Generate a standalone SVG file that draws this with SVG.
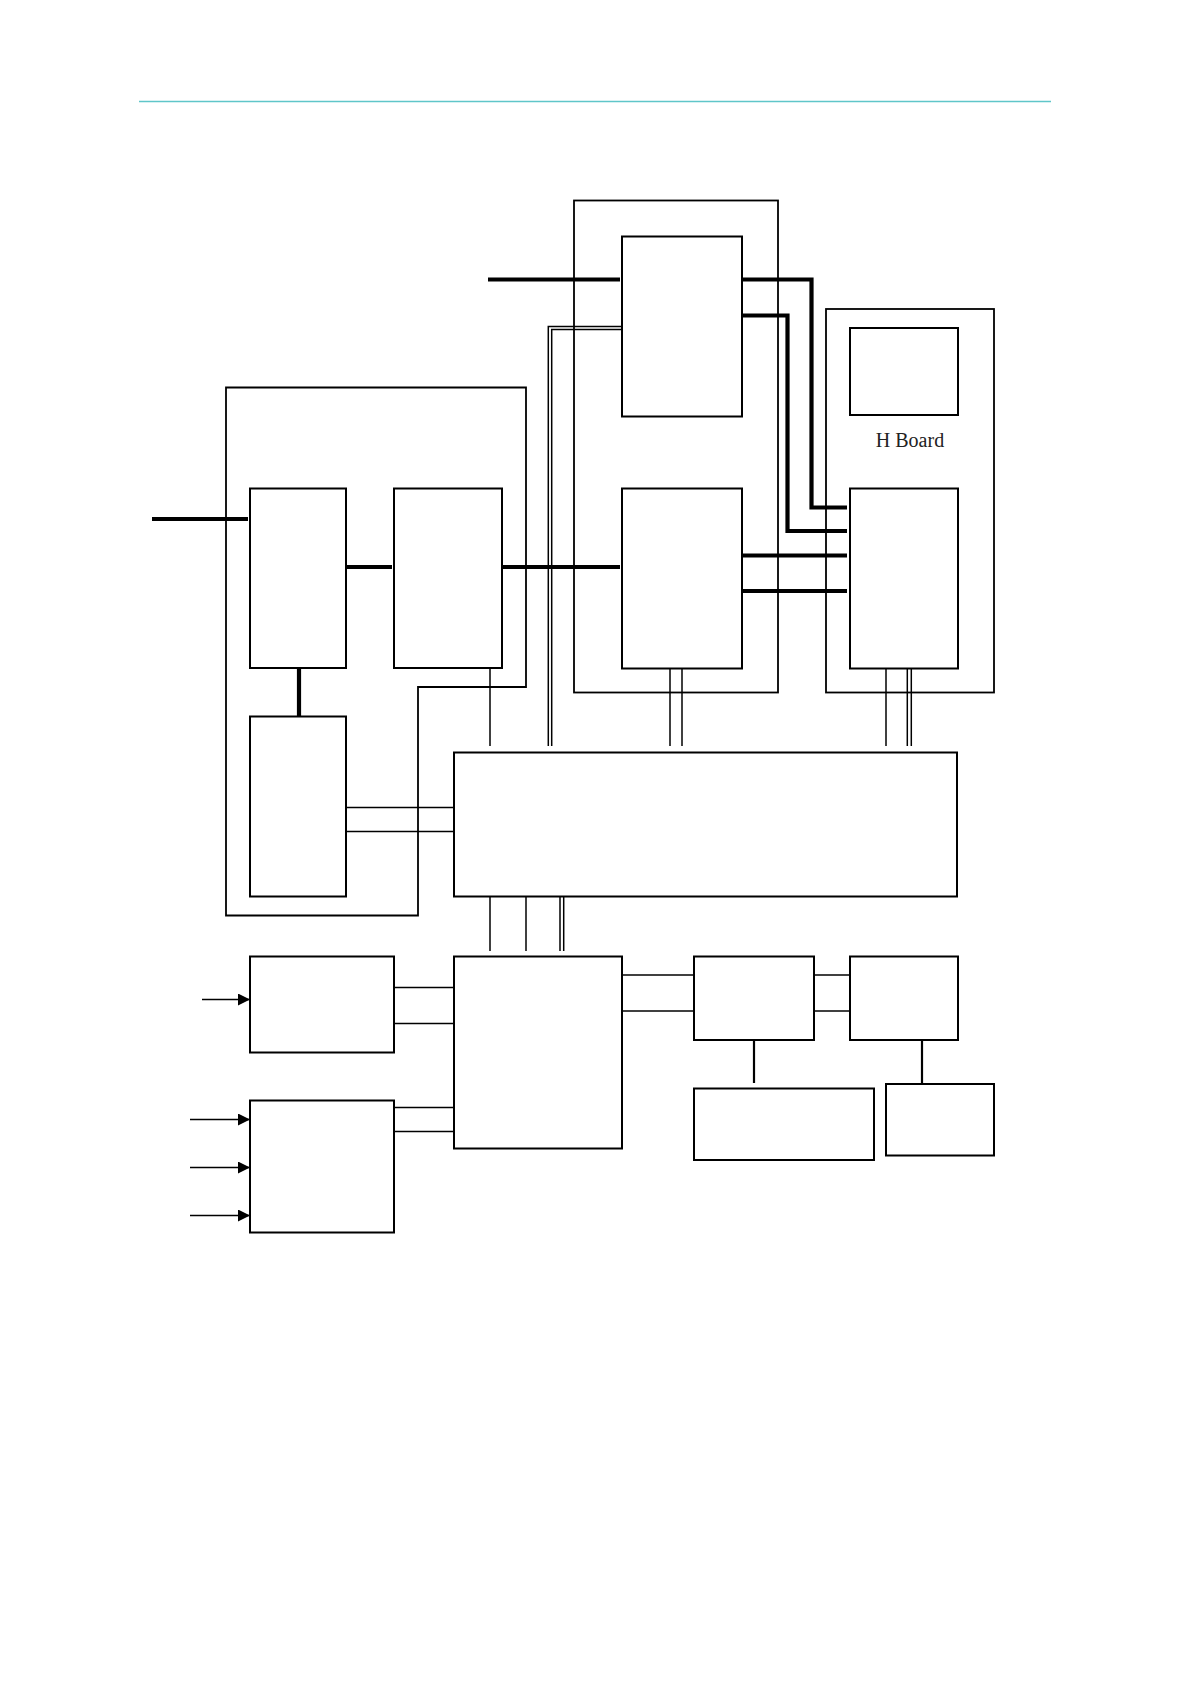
<svg xmlns="http://www.w3.org/2000/svg" width="1191" height="1684" viewBox="0 0 1191 1684">
<defs>
<marker id="arr" viewBox="0 0 12 12" refX="12" refY="6" markerWidth="12" markerHeight="12" markerUnits="userSpaceOnUse" orient="auto">
<path d="M0,0 L12,6 L0,12 Z" fill="#000"/>
</marker>
</defs>
<style>
.box{fill:none;stroke:#000;stroke-width:2}
.cont{fill:none;stroke:#000;stroke-width:1.8}
.thin{fill:none;stroke:#000;stroke-width:1.5}
.thick{fill:none;stroke:#000;stroke-width:4.2}
.stub{fill:none;stroke:#000;stroke-width:2.2}
.lbl{font-family:"Liberation Serif","Times New Roman",serif;font-size:20px;fill:#222}
</style>
<rect width="1191" height="1684" fill="#fff"/>
<line x1="139" y1="101.5" x2="1051" y2="101.5" stroke="#5fc6c9" stroke-width="1.4"/>

<g id="containers">
<path id="left-container" class="cont" d="M526,387.5 L226,387.5 L226,915.5 L418,915.5 L418,687 L526,687 Z"/>
<rect id="mid-container" class="cont" x="574" y="200.5" width="204" height="492"/>
<g id="hboard">
<rect class="cont" x="826" y="309" width="168" height="383.5"/>
<text class="lbl" x="910" y="447" text-anchor="middle">H Board</text>
</g>
</g>

<g id="nodes">
<rect id="boxA" class="box" x="250" y="488.5" width="96" height="179.5"/>
<rect id="boxB" class="box" x="394" y="488.5" width="108" height="179.5"/>
<rect id="boxC" class="box" x="250" y="716.5" width="96" height="180"/>
<rect id="midTop" class="box" x="622" y="236.5" width="120" height="180"/>
<rect id="midBot" class="box" x="622" y="488.5" width="120" height="180"/>
<rect id="hTop" class="box" x="850" y="328" width="108" height="87"/>
<rect id="hBot" class="box" x="850" y="488.5" width="108" height="180"/>
<rect id="mainBox" class="box" x="454" y="752.5" width="503" height="144"/>
<rect id="boxD" class="box" x="250" y="956.5" width="144" height="96"/>
<rect id="boxE" class="box" x="250" y="1100.5" width="144" height="132"/>
<rect id="boxF" class="box" x="454" y="956.5" width="168" height="192"/>
<rect id="boxG" class="box" x="694" y="956.5" width="120" height="83.5"/>
<rect id="boxH" class="box" x="850" y="956.5" width="108" height="83.5"/>
<rect id="boxI" class="box" x="694" y="1088.5" width="180" height="71.5"/>
<rect id="boxJ" class="box" x="886" y="1084" width="108" height="71.5"/>
</g>

<g id="connectors">
<line class="thick" x1="152" y1="519" x2="248" y2="519"/>
<line class="thick" x1="346" y1="567" x2="392" y2="567"/>
<line class="thick" x1="502" y1="567" x2="620" y2="567"/>
<line class="thick" x1="299" y1="668" x2="299" y2="716"/>
<line class="thick" x1="488" y1="279.5" x2="620" y2="279.5"/>
<path class="thick" d="M742,279.5 L811.5,279.5 L811.5,507.5 L847,507.5"/>
<path class="thick" d="M742,315.5 L787.5,315.5 L787.5,531 L847,531"/>
<line class="thick" x1="742" y1="555.5" x2="847" y2="555.5"/>
<line class="thick" x1="742" y1="591" x2="847" y2="591"/>
<path class="thin" d="M622,326.5 L548.3,326.5 L548.3,746"/>
<path class="thin" d="M622,329.5 L551.7,329.5 L551.7,746"/>
<line class="thin" x1="490" y1="668" x2="490" y2="746"/>
<line class="thin" x1="670" y1="668.5" x2="670" y2="746"/>
<line class="thin" x1="682" y1="668.5" x2="682" y2="746"/>
<line class="thin" x1="886" y1="668.5" x2="886" y2="746"/>
<line class="thin" x1="907.3" y1="668.5" x2="907.3" y2="746"/>
<line class="thin" x1="911.3" y1="668.5" x2="911.3" y2="746"/>
<line class="thin" x1="346" y1="807.5" x2="454" y2="807.5"/>
<line class="thin" x1="346" y1="831.5" x2="454" y2="831.5"/>
<line class="thin" x1="490" y1="896.5" x2="490" y2="951"/>
<line class="thin" x1="526" y1="896.5" x2="526" y2="951"/>
<line class="thin" x1="560" y1="896.5" x2="560" y2="951"/>
<line class="thin" x1="563.7" y1="896.5" x2="563.7" y2="951"/>
<line class="thin" x1="394" y1="987.5" x2="454" y2="987.5"/>
<line class="thin" x1="394" y1="1023.5" x2="454" y2="1023.5"/>
<line class="thin" x1="394" y1="1107.5" x2="454" y2="1107.5"/>
<line class="thin" x1="394" y1="1131.5" x2="454" y2="1131.5"/>
<line class="thin" x1="622" y1="975" x2="694" y2="975"/>
<line class="thin" x1="622" y1="1011" x2="694" y2="1011"/>
<line class="thin" x1="814" y1="975" x2="850" y2="975"/>
<line class="thin" x1="814" y1="1011" x2="850" y2="1011"/>
<line class="stub" x1="754" y1="1040" x2="754" y2="1083"/>
<line class="stub" x1="922" y1="1040" x2="922" y2="1084"/>
<line class="thin" x1="202" y1="999.5" x2="250" y2="999.5" marker-end="url(#arr)"/>
<line class="thin" x1="190" y1="1119.5" x2="250" y2="1119.5" marker-end="url(#arr)"/>
<line class="thin" x1="190" y1="1167.5" x2="250" y2="1167.5" marker-end="url(#arr)"/>
<line class="thin" x1="190" y1="1215.5" x2="250" y2="1215.5" marker-end="url(#arr)"/>
</g>
</svg>
